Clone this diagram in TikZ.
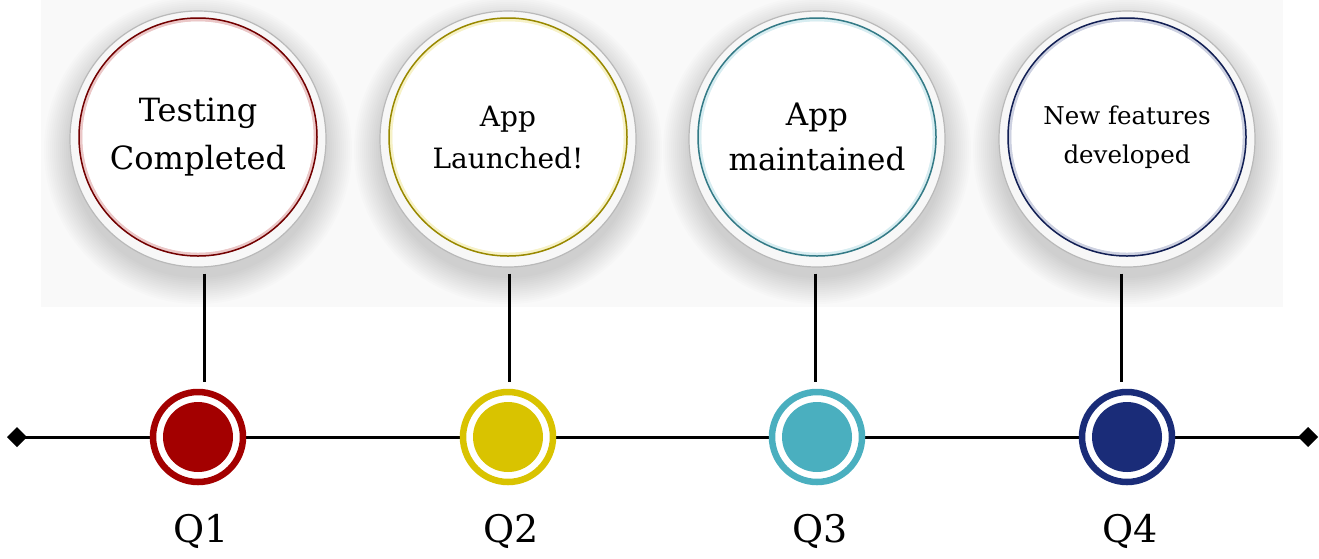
\documentclass[tikz,border=0pt]{standalone}
\usepackage{fontspec}
\setmainfont{DejaVu Serif}
\usetikzlibrary{shapes.geometric}
\definecolor{bgc}{HTML}{F9F9F9}
\definecolor{cred}{HTML}{A30000}
\definecolor{cyel}{HTML}{D9C300}
\definecolor{cteal}{HTML}{4AAFBF}
\definecolor{cnavy}{HTML}{1A2C78}
\newcommand\milestone[8]{%
  % #1 idx, #2 x, #3 colour, #4 font size, #5 baselineskip, #6 text, #7 line x, #8 label
  \foreach \r in {128,130,...,154}{\fill[black,opacity=0.010] (#2,150) circle[radius=\r];}
  \node[bigc] (c#1) at (#2,139) {};
  \draw[#3!22, line width=4pt] (#2,137) circle[radius=117.5];
  \fill[white] (#2,137) circle[radius=115.5];
  \draw[#3!70!black, line width=1.5pt] (#2,137) circle[radius=119];
  \node[align=center, font=\fontsize{#4}{#5}\selectfont] (t#1) at (#2,137) {#6};
  \node[mk, draw=#3] (m#1) at (#2,437) {};
  \draw[conn] ([shift={(#7-#2,6)}]c#1.south) -- ([shift={(#7-#2,-6.5)}]m#1.north);
  \fill[#3] (m#1.center) circle[radius=35];
  \node[qlab] (q#1) at (#2+3,531) {#8};
}
\begin{document}
\begin{tikzpicture}[x=1pt,y=-1pt,
  bigc/.style={circle, minimum size=256pt, inner sep=0pt, fill=gray!6, draw=gray!55, line width=1.2pt},
  mk/.style={circle, minimum size=90pt, inner sep=0pt, line width=6.5pt, fill=white},
  conn/.style={draw=black, line width=3pt},
  qlab/.style={font=\fontsize{38}{40}\selectfont},
  tip/.style={diamond, fill=black, minimum width=20pt, minimum height=20pt, inner sep=0pt, outer sep=0pt}]
\useasboundingbox (0,0) rectangle (1319,558);
\fill[bgc] (41,0) rectangle (1283,307);
\node[tip] (d1) at (17,437) {};
\node[tip] (d2) at (1308,437) {};
\draw[conn] (d1.center) -- (d2.center);
\milestone{1}{198}{cred}{32}{48}{Testing\\Completed}{204}{Q1}
\milestone{2}{508}{cyel}{28}{42}{App\\Launched!}{509}{Q2}
\milestone{3}{817}{cteal}{31}{45}{App\\maintained}{815}{Q3}
\milestone{4}{1127}{cnavy}{24.5}{39}{New features\\developed}{1121}{Q4}
\end{tikzpicture}
\end{document}
